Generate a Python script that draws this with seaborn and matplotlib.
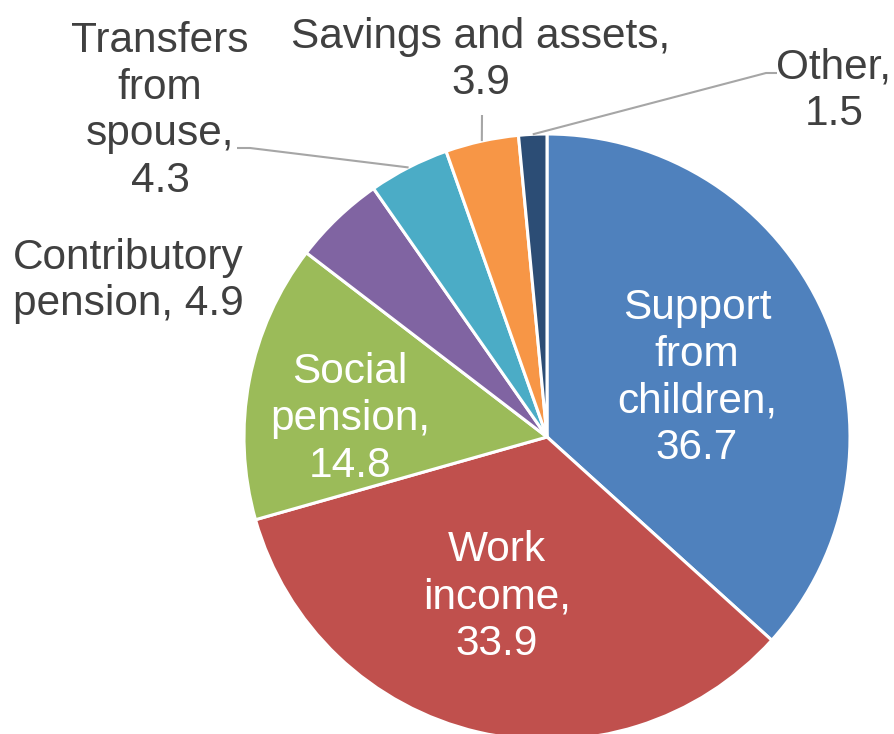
import numpy as np
import matplotlib
matplotlib.use("Agg")
import matplotlib.pyplot as plt
import seaborn as sns

# ---- data ----
categories = ["Support\nfrom\nchildren,", "Work\nincome,", "Social\npension,",
              "Contributory\npension,", "Transfers\nfrom\nspouse,",
              "Savings and assets,", "Other,"]
values = [36.7, 33.9, 14.8, 4.9, 4.3, 3.9, 1.5]
colors = ["#4F81BD", "#C0504D", "#9BBB59", "#8064A2", "#4BACC6", "#F79646", "#2C4D75"]

sns.set_theme(style="white")
plt.rcParams["font.family"] = ["Liberation Sans", "DejaVu Sans"]

W, H, DPI = 894, 734, 100
fig = plt.figure(figsize=(W / DPI, H / DPI), dpi=DPI)
ax = fig.add_axes([0, 0, 1, 1])

wedges, _ = ax.pie(values, colors=colors, startangle=90, counterclock=False,
                   radius=1.0, center=(0, 0),
                   wedgeprops=dict(edgecolor="white", linewidth=2.2))

# map pixel layout: center (547,437), radius 303 px
cx, cy, R = 547, 437, 303
ax.set_xlim(-cx / R, (W - cx) / R)
ax.set_ylim(-(H - cy) / R, cy / R)
ax.set_aspect("auto")
ax.axis("off")

def px(x, y):
    return ((x - cx) / R, (cy - y) / R)

# label layout (pixel centers), inside flags
layout = [
    ((697, 378), True, None),
    ((497, 597), True, None),
    ((350, 419), True, None),
    ((128, 281), False, None),
    ((160, 111), False, [(250, 148), (237, 148)]),
    ((481, 60), False, [(482, 115)]),
    ((834, 91), False, [(766, 73), (777, 73)]),
]

fs = 30.5
tot = sum(values)
cum = 0
for name, v, w, (pos, inside, leader) in zip(categories, values, wedges, layout):
    mid = np.deg2rad(90 - 360 * (cum + v / 2) / tot)
    cum += v
    if name == "Contributory\npension,":
        txt = f"Contributory\npension, {v}"
    else:
        txt = f"{name}\n{v}"
    x, y = px(*pos)
    ax.text(x, y, txt, ha="center", va="center", multialignment="center",
            fontsize=fs, color="white" if inside else "#404040", linespacing=1.22)
    if leader:
        pts = [(np.cos(mid), np.sin(mid))] + [px(*p) for p in leader]
        xs, ys = zip(*pts)
        ax.plot(xs, ys, color="#A6A6A6", lw=1.5, solid_capstyle="butt")

fig.savefig("out.png", dpi=DPI, facecolor="white")
